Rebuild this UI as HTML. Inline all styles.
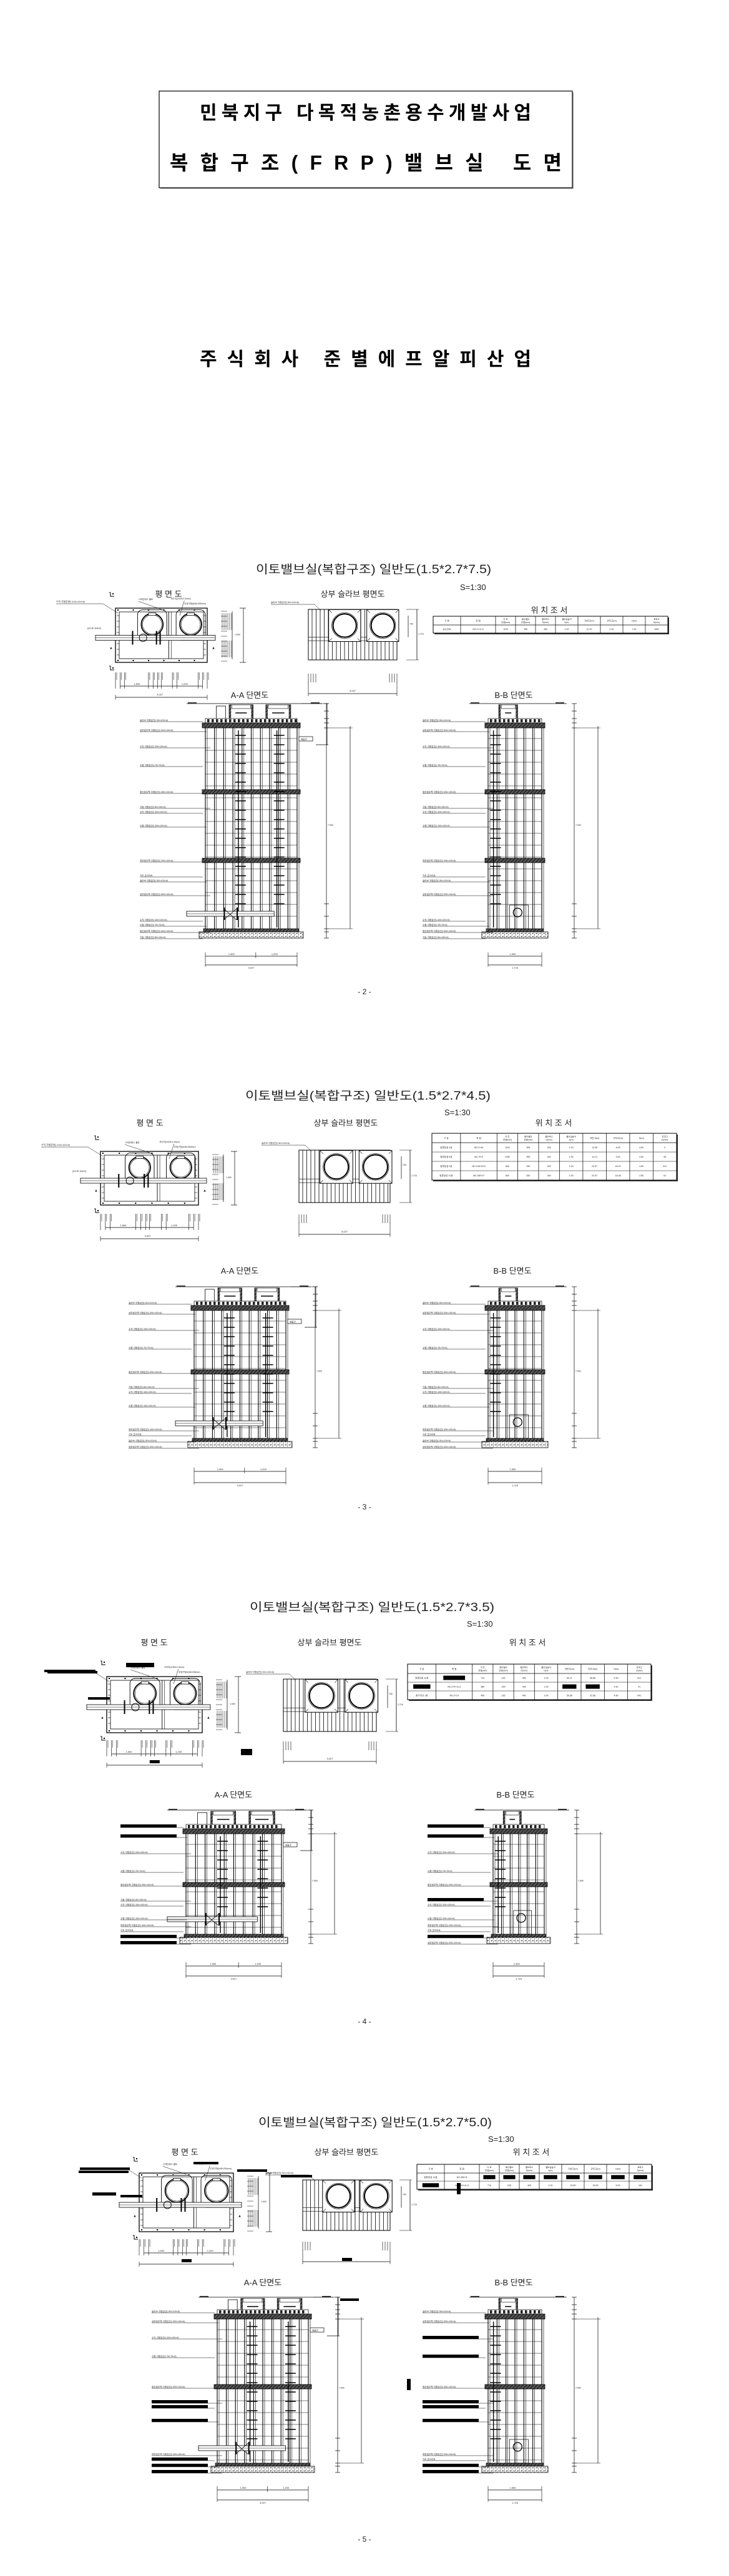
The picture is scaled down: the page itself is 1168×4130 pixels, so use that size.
<!DOCTYPE html>
<html><head><meta charset="utf-8">
<style>
html,body{margin:0;padding:0;background:#fff;}
svg{display:block;}
.t{font-family:"Liberation Sans","Noto Sans CJK KR",sans-serif;}
</style></head>
<body>
<svg id="s" width="1168" height="4130" viewBox="0 0 1168 4130" xmlns="http://www.w3.org/2000/svg">
<defs>
<pattern id="hat" width="4" height="4" patternUnits="userSpaceOnUse" patternTransform="rotate(45)">
<rect width="4" height="4" fill="#555"/><line x1="0" y1="0" x2="0" y2="4" stroke="#111" stroke-width="2"/></pattern>
<pattern id="grv" width="6" height="5" patternUnits="userSpaceOnUse">
<rect width="6" height="5" fill="#fff"/><circle cx="1.5" cy="1.5" r="0.9" fill="#222"/><circle cx="4.5" cy="3.5" r="0.7" fill="#444"/><rect x="3" y="0.5" width="1.5" height="1" fill="#333"/></pattern>
</defs>
<rect width="1168" height="4130" fill="#fff"/>
<!-- cover -->
<rect x="257" y="148" width="662" height="155" fill="#aaa"/>
<rect x="255" y="146" width="662" height="155" fill="#fff" stroke="#000" stroke-width="1.2"/>
<g class="t" font-weight="bold" fill="#000">
<text x="320" y="191" font-size="30" textLength="531" lengthAdjust="spacing">민북지구 다목적농촌용수개발사업</text>
<text x="272" y="272" font-size="32" textLength="628" lengthAdjust="spacing">복합구조(FRP)밸브실 도면</text>
<text x="320" y="586" font-size="30" textLength="531" lengthAdjust="spacing">주식회사 준별에프알피산업</text>
</g>
<g class="t" fill="#222">
<text x="410" y="919" font-size="19" textLength="377" lengthAdjust="spacingAndGlyphs">이토밸브실(복합구조) 일반도(1.5*2.7*7.5)</text>
<text x="737" y="946" font-size="13">S=1:30</text>
<text x="270" y="957" font-size="13" text-anchor="middle">평 면 도</text>
<text x="565" y="957" font-size="13" text-anchor="middle">상부 슬라브 평면도</text>
<text x="880" y="983" font-size="13" text-anchor="middle">위 치 조 서</text>
<text x="400" y="1119" font-size="13" text-anchor="middle">A-A 단면도</text>
<text x="823" y="1119" font-size="13" text-anchor="middle">B-B 단면도</text>
<text x="584" y="1594" font-size="12" text-anchor="middle">- 2 -</text>

<text x="393" y="1763" font-size="19" textLength="393" lengthAdjust="spacingAndGlyphs">이토밸브실(복합구조) 일반도(1.5*2.7*4.5)</text>
<text x="712" y="1788" font-size="13">S=1:30</text>
<text x="240" y="1805" font-size="13" text-anchor="middle">평 면 도</text>
<text x="554" y="1805" font-size="13" text-anchor="middle">상부 슬라브 평면도</text>
<text x="887" y="1805" font-size="13" text-anchor="middle">위 치 조 서</text>
<text x="384" y="2042" font-size="13" text-anchor="middle">A-A 단면도</text>
<text x="821" y="2042" font-size="13" text-anchor="middle">B-B 단면도</text>
<text x="584" y="2420" font-size="12" text-anchor="middle">- 3 -</text>

<text x="400" y="2583" font-size="19" textLength="392" lengthAdjust="spacingAndGlyphs">이토밸브실(복합구조) 일반도(1.5*2.7*3.5)</text>
<text x="748" y="2608" font-size="13">S=1:30</text>
<text x="247" y="2638" font-size="13" text-anchor="middle">평 면 도</text>
<text x="528" y="2638" font-size="13" text-anchor="middle">상부 슬라브 평면도</text>
<text x="845" y="2638" font-size="13" text-anchor="middle">위 치 조 서</text>
<text x="374" y="2882" font-size="13" text-anchor="middle">A-A 단면도</text>
<text x="826" y="2882" font-size="13" text-anchor="middle">B-B 단면도</text>
<text x="584" y="3245" font-size="12" text-anchor="middle">- 4 -</text>

<text x="414" y="3409" font-size="19" textLength="374" lengthAdjust="spacingAndGlyphs">이토밸브실(복합구조) 일반도(1.5*2.7*5.0)</text>
<text x="782" y="3434" font-size="13">S=1:30</text>
<text x="296" y="3455" font-size="13" text-anchor="middle">평 면 도</text>
<text x="555" y="3455" font-size="13" text-anchor="middle">상부 슬라브 평면도</text>
<text x="851" y="3455" font-size="13" text-anchor="middle">위 치 조 서</text>
<text x="421" y="3664" font-size="13" text-anchor="middle">A-A 단면도</text>
<text x="823" y="3664" font-size="13" text-anchor="middle">B-B 단면도</text>
<text x="584" y="4075" font-size="12" text-anchor="middle">- 5 -</text>
</g>
<g id="g"></g>
</svg>
<script>
(function(){
var NS="http://www.w3.org/2000/svg",G=document.getElementById("g");
function el(n,a,txt){var e=document.createElementNS(NS,n);for(var k in a)e.setAttribute(k,a[k]);if(txt)e.textContent=txt;G.appendChild(e);return e;}
function L(x1,y1,x2,y2,w,c){el("line",{x1:x1,y1:y1,x2:x2,y2:y2,stroke:c||"#000","stroke-width":w||0.6});}
function R(x,y,w,h,f,s,sw){el("rect",{x:x,y:y,width:w,height:h,fill:f||"none",stroke:s||"none","stroke-width":sw||0.6});}
function C(cx,cy,r,w){el("circle",{cx:cx,cy:cy,r:r,fill:"none",stroke:"#000","stroke-width":w||1});}
function T(x,y,s,sz,a){el("text",{x:x,y:y,"font-size":sz||4,"font-family":"Liberation Sans, Noto Sans CJK KR, sans-serif","text-anchor":a||"start",fill:"#222"},s);}
var labs=["슬라브 각형강관(□50×100×6)","상부링주벽 각형강관(□200×100×6)","수직 각형강관(□100×100×6)","수평 각형강관(□75×75×6)","중간링주벽 각형강관(□200×100×6)","기둥 각형강관(□50×150×6)","수직 각형강관(□100×100×6)","수평 각형강관(□100×100×6)","하부링주벽 각형강관(□100×100×6)","기초 콘크리트"];
function dimV(x,y1,y2){L(x,y1,x,y2,0.7);for(var y=y1;y<=y2;y+= (y2-y1)){L(x-3,y,x+3,y,0.7);}}
function section(x0,x1,g,top,mids,bot,dy1,dy2,bb,bars){
  var W=x1-x0;
  L(x0-30,g,x1+40,g,0.8);R(x0-28,g-2,14,2,"#333");R(x1+22,g-2,14,2,"#333");
  // risers
  var mh=bb?[[x0+W*0.2,x0+W*0.55]]:[[x0+W*0.26,x0+W*0.52],[x0+W*0.66,x0+W*0.93]];
  if(!bb){R(x0+W*0.12,g+4,W*0.1,top-g-10,"#fff","#000",0.8);}
  mh.forEach(function(m){R(m[0],g+2,m[1]-m[0],top-g-8,"#fff","#000",1);R(m[0],g+2,3,top-g-8,"url(#hat)");R(m[1]-3,g+2,3,top-g-8,"url(#hat)");R(m[0]+4,g+2,m[1]-m[0]-8,6,"#fff","#000",0.6);L(m[0]+10,g+15,m[1]-10,g+15,1.5);});
  // grating
  R(x0,top-7,W,7,"#fff","#000",0.7);for(var x=x0+3;x<x1-3;x+=7)R(x,top-6,3.5,5,"#222");
  R(x0-5,top,W+10,8,"url(#hat)","#000",0.8);
  // posts
  var step=bb?W/6:W/10;
  for(var x=x0;x<=x1+0.5;x+=step){L(x,top+8,x,bot,1.1);L(x+3,top+8,x+3,bot,0.6);}
  for(var y=top+25;y<bot-3;y+=19)L(x0,y,x1,y,0.6);
  mids.forEach(function(m){R(x0-5,m,W+10,7,"url(#hat)","#000",0.8);});
  // ladders
  var lads=bb?[x0+W*0.1]:[x0+W*0.36,x0+W*0.78];
  lads.forEach(function(lx){L(lx,top+12,lx,bot-2,1.4);for(var y=top+20;y<bot-30;y+=15)L(lx-5,y,lx+12,y,1.6);});
  R(x0-3,bot,W+6,5,"url(#hat)","#000",0.7);
  R(x0-10,bot+5,W+20,dy1-bot-36>0?10:10,"url(#grv)","#000",0.8);
  if(!bb){
    var py=bot-28;R(x0-30,py,W*0.75+30,8,"#fff","#000",0.8);L(x0-30,py+4,x0+W*0.75,py+4,0.5);
    R(x0+W*0.2,py-6,2,20,"#000");R(x0+W*0.34,py-6,2,20,"#000");L(x0+W*0.2,py-4,x0+W*0.34,py+14,0.8);L(x0+W*0.2,py+14,x0+W*0.34,py-4,0.8);
    R(x1+3,top+22,22,7,"#fff","#000",0.7);T(x1+6,top+27.5,"배출관",3.5);
    L(x1+8,g,x1+50,g,0.5);L(x1+48,g,x1+48,top+35,0.7);L(x1+30,top+35,x1+50,top+35,0.7);
  }else{
    C(x0+W*0.55,bot-26,7,1.3);R(x0+W*0.4,bot-38,W*0.35,38,"none","#000",0.7);
  }
  // right dims
  var dx=bb?x1+90:x1+85;
  L(dx-38,g,dx-38,bot+15,0.7);L(dx,top+5,dx,bot,0.7);
  [g,g+12,top-7,top,top+8,bot-40,bot-20,bot,bot+5,bot+15].forEach(function(y){L(dx-42,y,dx-34,y,0.7);});
  L(dx-34,top+8,dx+4,top+8,0.6);L(dx-34,bot,dx+4,bot,0.6);
  T(dx-36,(top+bot)/2,"7,500",3.5);
  // bottom dims
  L(x0,dy1-6,x0,dy2+3,0.6);L(x1,dy1-6,x1,dy2+3,0.6);L(x0,dy2,x1,dy2,0.7);L(x0,dy1,x1,dy1,0.7);
  if(!bb){L(x0+W*0.55,dy1-6,x0+W*0.55,dy1+3,0.6);T(x0+W*0.25,dy1-2,"1,500",4);T(x0+W*0.72,dy1-2,"1,200",4);}
  else T(x0+W*0.4,dy1-2,"1,500",4);
  T((x0+x1)/2-5,dy2+6,bb?"1,716":"3,027",4);
  // labels
  var lx=bb?x0-105:x0-105,ys=[top-2,top+14,top+40,top+70];
  mids.forEach(function(m){ys.push(m+6,m+30,m+38,m+60);});
  ys.push(bot-12,bot-4,bot+6,bot+16);
  ys.forEach(function(y,i){ if(y>bot+20)return; var s=labs[i%labs.length];
     if(bars&&bars.indexOf(i)>=0){R(lx,y-5,90,5,"#000");} else T(lx,y-1,s,3.6);
     L(lx,y,x0-4+(i%3)*6,y,0.6);});
}
function plan(x0,x1,y0,y1,dimY,bars){
  var W=x1-x0,H=y1-y0;
  R(x0,y0,W,H,"#fff","#000",1.3);R(x0+6,y0+6,W-12,H-12,"none","#000",0.8);
  var mx=x0+W*0.58;L(mx,y0+6,mx,y1-6,0.9);L(mx+4,y0+6,mx+4,y1-6,0.6);
  for(var i=0;i<6;i++){R(x0+3+i*W/6,y0+2,2,2,"#000");R(x0+3+i*W/6,y1-4,2,2,"#000");}
  for(var y=y0+12;y<y1-8;y+=9){L(x0+2,y,x0+6,y,0.6);L(x1-6,y,x1-2,y,0.6);}
  var cy=y0+H*0.3,r=H*0.2;
  [0.4,0.82].forEach(function(f){var cx=x0+W*f;el("rect",{x:cx-r-6,y:cy-r-6,width:2*r+12,height:2*r+14,rx:8,fill:"none",stroke:"#000","stroke-width":0.9});C(cx,cy,r,1.8);C(cx,cy,r-2,0.6);R(cx-6,cy-r-1,12,4,"#fff","#000",0.8);});
  var py=y0+H*0.5;R(x0-32,py,W+45,8,"#fff","#000",0.8);L(x0-32,py+4,x1+13,py+4,0.5);
  C(x0+W*0.3,py+4,6,1);R(x0+W*0.18,py-7,2,22,"#000");R(x0+W*0.44,py-7,2,22,"#000");R(x0+W*0.48,py-7,2,22,"#000");
  el("path",{d:"M"+(x0-10)+" "+(y0-25)+" l2 0 l0 6 l6 0",fill:"none",stroke:"#000","stroke-width":1});
  el("path",{d:"M"+(x0-10)+" "+(y1+6)+" l2 0 l0 6 l6 0",fill:"none",stroke:"#000","stroke-width":1});
  R(x0-5,y0-24,2,2,"#000");R(x0-5,y1+8,2,2,"#000");
  T(x0-10,y0+H*0.75,"▲",6);T(x1+7,y0+H*0.75,"▲",6);
  // leaders
  if(bars){R(x0-95,y0-9,80,4,"#000");R(x0-30,py-12,35,4,"#000");}
  else{T(x0-95,y0-9,"수직 각형강관(□100×100×6)",3.8);T(x0-45,py-10,"(DCIP-D400)",3.8);}
  L(x0-95,y0-7,x0-20,y0-7,0.5);L(x0-20,y0-7,x0+4,y0+8,0.5);
  T(x0+W*0.25,y0-13,"스테인레스 볼트",3.5);T(x0+W*0.6,y0-14,"사다리(1025×1.8mm)",3.5);T(x0+W*0.75,y0-6,"뚜껑구멍(648×250mm)",3.5);
  L(x0+W*0.25,y0-11,x0+W*0.5,y0+2,0.5);L(x0+W*0.75,y0-12,x0+W*0.7,y0+12,0.5);
  // right dims
  var rx=x1+40;L(rx,y0+5,rx,y1-5,0.7);L(rx+18,y0,rx+18,y1,0.7);
  for(var y=y0+5;y<y1;y+=8){L(rx-18,y,rx-8,y,0.5);}
  for(var k=0;k<6;k++){L(rx-16+k*3,y0+8,rx-16+k*3,y0+35,0.5);L(rx-16+k*3,y1-35,rx-16+k*3,y1-8,0.5);}
  L(rx+12,y0,rx+22,y0,0.7);L(rx+12,y1,rx+22,y1,0.7);T(rx+4,(y0+y1)/2,"1,500",3.5);
  // bottom dims
  var xs=[0,0.05,0.1,0.36,0.41,0.46,0.5,0.62,0.67,0.9,0.95,1];
  xs.forEach(function(f){L(x0+W*f,dimY-22,x0+W*f,dimY+4,0.6);L(x0+W*f+2,dimY-22,x0+W*f+2,dimY-10,0.5);});
  L(x0+W*0.05,dimY,x0+W*0.95,dimY,0.7);L(x0,dimY+18,x1,dimY+18,0.7);L(x0,dimY+14,x0,dimY+22,0.6);L(x1,dimY+14,x1,dimY+22,0.6);
  T(x0+W*0.2,dimY-2,"1,500",4);T(x0+W*0.72,dimY-2,"1,200",4);
  if(bars)R(x0+W*0.45,dimY+10,16,5,"#000");else T(x0+W*0.45,dimY+15,"3,027",4);
}
function slab(x0,x1,y0,y1,dimY){
  var W=x1-x0,H=y1-y0;
  R(x0,y0,W,H,"#fff","#000",1);
  for(var x=x0+6;x<x1;x+=6.5)L(x,y0,x,y1,0.8);
  L(x0,y0+H*0.55,x1,y0+H*0.55,0.6);L(x0,y0+H*0.62,x1,y0+H*0.62,0.6);
  var cy=y0+H*0.32,r=H*0.23;
  [0.41,0.84].forEach(function(f){var cx=x0+W*f;R(cx-r-7,cy-r-7,2*r+14,2*r+14,"#fff","#000",1);L(cx-r-7,cy-r-7,cx+r+7,cy+r+7,0.6);L(cx+r+7,cy-r-7,cx-r-7,cy+r+7,0.6);R(cx-r-2,cy-r-2,2*r+4,2*r+4,"#fff","none");C(cx,cy,r+2,0.7);C(cx,cy,r,2);});
  L(x1+15,y0,x1+35,y0,0.6);L(x1+15,y1,x1+35,y1,0.6);L(x1+32,y0,x1+32,y1,0.8);L(x1+18,y0+10,x1+18,y0+H*0.55,0.7);
  T(x1+20,y0+H*0.3,"750",3.5);T(x1+34,(y0+y1)/2,"1,716",3.5);
  [0,4,8,12].forEach(function(d){L(x0+d,dimY-18,x0+d,dimY-4,0.6);L(x1-d,dimY-18,x1-d,dimY-4,0.6);});
  L(x0,dimY-5,x0,dimY+18,0.6);L(x1,dimY-5,x1,dimY+18,0.6);L(x0,dimY+14,x1,dimY+14,0.7);
  T((x0+x1)/2-5,dimY+11,"3,027",4);
  L(x0-60,y0-8,x0+10,y0-8,0.5);L(x0+10,y0-8,x0+20,y0+2,0.5);T(x0-60,y0-10,"슬라브 각형강관(□50×100×6)",3.6);
}
function table(x0,x1,y0,rows,hh,rh){
  var cw=[0.11,0.14,0.08,0.08,0.08,0.09,0.09,0.09,0.09,0.09];
  var tot=rows.length*rh+hh,W=x1-x0;
  R(x0+2,y0+2,W,tot,"#333");R(x0,y0,W,tot,"#fff","#000",1);
  var hd=["구 분","측 점","이 토\n관경(mm)","배수밸브\n관경(mm)","밸브박스\nD(mm)","밸브실높이\nh(m)","지반고(m)","관저고(m)","H(m)","토피고\nD(mm)"];
  var x=x0;for(var i=0;i<cw.length;i++){var w=W*cw[i]/0.94;if(i>0)L(x,y0,x,y0+tot,0.7);
    var p=hd[i].split("\n");if(p.length>1){T(x+w/2,y0+hh/2-1,p[0],3.4,"middle");T(x+w/2,y0+hh/2+4,p[1],3.4,"middle");}else T(x+w/2,y0+hh/2+1.5,p[0],3.6,"middle");
    rows.forEach(function(r,j){var v=r[i];var yy=y0+hh+j*rh;if(v==="#")R(x+w*0.2,yy+rh*0.25,w*0.6,rh*0.5,"#000");else T(x+w/2,yy+rh/2+1.5,v,3.6,"middle");});
    x+=w;}
  L(x0,y0+hh,x1,y0+hh,0.8);rows.forEach(function(r,j){if(j>0)L(x0,y0+hh+j*rh,x1,y0+hh+j*rh,0.6);});
}
// page 2
plan(185,332,975,1062,1100);
slab(494,636,977,1058,1098);
table(694,1070,988,[["송수관로","NO.2+11.5","1100","355","400","1.00","11.20","2.00","7.50","1661"]],14,13);
section(329,476,1128,1159,[1266,1376],1489,1533,1547,false);
section(782,868,1128,1159,[1266,1376],1489,1533,1547,true);
// page 3
plan(161,318,1846,1932,1968);
slab(479,625,1844,1928,1965);
table(692,1084,1817,[["정류장성 4호","NO.9+45","1100","355","400","1.00","12.65","8.45","4.50","0"],["정류장성 8호","NO.79+2","1000","355","400","1.00","14.21","9.40","4.50","55"],["정류장성 9호","NO.106+25.5","800","250","400","1.00","22.57","18.10","4.50","611"],["정류장성 10호","NO.158+47","800","250","400","1.00","22.57","18.48","4.50","61"]],15,15);
section(311,458,2063,2093,[2196],2306,2359,2377,false);
section(782,868,2063,2093,[2196],2306,2359,2377,true);
// page 4
plan(171,324,2688,2778,2812,true);
slab(454,603,2692,2776,2810);
table(653,1043,2668,[["정류장성 12호","#","710","225","455","1.00","60.11","58.88","4.50","621"],["#","NO.274+11.6","560","225","400","1.00","#","#","4.50","41"],["중가지선 1호","NO.2+14","450","225","400","1.00","55.58","22.58","4.50","641"]],15,14);
section(298,451,2902,2932,[3018],3101,3152,3168,false,[0,1,10,11]);
section(790,872,2902,2932,[3018],3101,3152,3168,true,[0,1,5,10]);
R(202,2666,45,4,"#000");R(202,2670,45,3,"#000");R(71,2677,82,4,"#000");R(386,2804,18,10,"#000");
// page 5
plan(223,374,3484,3578,3612,true);
slab(485,625,3495,3576,3612);
table(668,1044,3470,[["정류장성 15호","NO.355+8","#","#","#","#","#","#","#","#"],["#","NO.220+41.5","710","225","400","1.00","20.50","15.55","5.00","161"]],14,13);
section(348,494,3683,3710,[3823],3949,3992,4008,false,[5,6,7,9,10,11]);
section(782,868,3683,3710,[3823],3949,3992,4008,true,[2,3,5,6,7,10,11]);
R(126,3480,80,4,"#000");R(148,3515,38,5,"#000");R(380,3478,48,4,"#000");R(450,3487,50,4,"#000");
R(310,3466,40,4,"#000");R(545,3685,30,4,"#000");R(652,3814,6,18,"#000");R(732,3500,6,18,"#000");R(548,3620,16,5,"#000");
})();
</script>
</body></html>
